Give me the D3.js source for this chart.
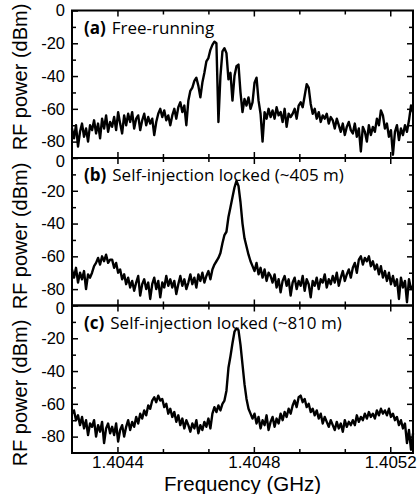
<!DOCTYPE html>
<html>
<head>
<meta charset="utf-8">
<script src="https://cdnjs.cloudflare.com/ajax/libs/d3/7.8.5/d3.min.js"></script>
<style>
body { margin: 0; background: #fff; }
svg text { font-family: "Liberation Sans", Arial, sans-serif; fill: #000; }
.tick line { stroke: #000; stroke-width: 1.5; }
.panel-label { font-family: "Open Sans", sans-serif; font-size: 17px; }
</style>
</head>
<body>
<script>
// frequency grid of the trace (GHz)
const freqStart = 1.4042667;
const freqEnd = 1.4052667;

const panelNames = ['(a)', '(b)', '(c)'];
const panelTitles = ['Free-running', 'Self-injection locked (~405 m)', 'Self-injection locked (~810 m)'];
const xTickLabels = [1.4044, 1.4048, 1.4052];
const yTickLabels = [0, -20, -40, -60, -80];
const yMinorTicks = [-10, -30, -50, -70];

// RF power (dBm), evenly spaced over the frequency span
const powerA = [
  -72, -78, -70, -83, -74, -69, -77, -72, -80, -70,
  -73, -67, -75, -69, -78, -66, -72, -64, -74, -68,
  -71, -65, -73, -62, -69, -75, -64, -70, -63, -68,
  -62, -72, -66, -64, -73, -67, -63, -70, -65, -69,
  -66, -76, -68, -63, -60, -65, -61, -67, -64, -70,
  -64, -60, -66, -59, -56, -62, -58, -70, -55, -49,
  -47, -43, -41, -46, -53, -44, -38, -31, -29, -24,
  -21, -19, -20, -68, -40, -25, -23, -26, -42, -38,
  -55, -40, -34, -33, -50, -62, -54, -58, -53, -60,
  -56, -44, -41, -55, -63, -80, -62, -66, -60, -65,
  -61, -66, -59, -64, -62, -68, -60, -71, -63, -65,
  -63, -60, -66, -58, -56, -59, -52, -45, -47, -57,
  -63, -60, -66, -62, -68, -64, -66, -63, -69, -65,
  -67, -72, -66, -70, -74, -69, -76, -71, -68, -73,
  -75, -69, -77, -72, -86, -71, -74, -80, -70, -76,
  -71, -74, -66, -70, -61, -64, -72, -69, -77, -73,
  -88, -74, -70, -79, -72, -76, -70, -74, -67, -58, -62
];
const powerB = [
  -68, -73, -67, -76, -70, -74, -69, -80, -71, -73,
  -70, -66, -64, -61, -65, -60, -63, -59, -64, -62,
  -62, -67, -64, -70, -68, -74, -71, -77, -73, -79,
  -75, -81, -76, -72, -84, -77, -74, -80, -76, -86,
  -77, -73, -80, -75, -85, -76, -79, -72, -78, -74,
  -79, -75, -83, -77, -72, -78, -74, -80, -76, -71,
  -77, -73, -79, -71, -75, -70, -76, -72, -69, -74,
  -68, -65, -63, -61, -58, -52, -47, -45, -36, -30,
  -24, -18, -14, -17, -27, -40, -49, -54, -59, -63,
  -66, -69, -64, -71, -67, -73, -68, -75, -70, -72,
  -76, -71, -79, -74, -82, -75, -72, -78, -74, -84,
  -76, -73, -80, -75, -78, -72, -81, -74, -77, -85,
  -75, -78, -73, -80, -74, -76, -71, -79, -74, -77,
  -72, -76, -70, -78, -73, -69, -75, -71, -68, -73,
  -67, -64, -70, -62, -60, -65, -61, -63, -60, -66,
  -63, -68, -65, -71, -66, -73, -69, -75, -70, -77,
  -72, -78, -74, -86, -73, -79, -75, -88, -74, -80, -78
];
const powerC = [
  -66, -64, -70, -67, -73, -68, -75, -70, -79, -72,
  -74, -70, -80, -73, -77, -71, -84, -75, -72, -78,
  -74, -79, -72, -83, -76, -73, -80, -74, -70, -76,
  -71, -74, -68, -72, -66, -69, -64, -67, -61, -63,
  -58, -56, -59, -55, -58, -57, -62, -60, -66, -63,
  -68, -65, -71, -67, -73, -69, -75, -70, -73, -77,
  -72, -75, -70, -78, -73, -76, -71, -74, -69, -75,
  -66, -62, -65, -61, -64, -60, -58, -52, -38, -31,
  -23, -16, -14, -15, -24, -36, -48, -57, -63, -66,
  -69, -66, -72, -68, -75, -70, -73, -67, -76, -71,
  -68, -74, -69, -72, -66, -70, -65, -68, -63, -66,
  -61, -58, -62, -56, -55, -59, -57, -62, -60, -65,
  -63, -67, -64, -69, -66, -72, -68, -71, -74, -70,
  -73, -76, -71, -75, -72, -77, -70, -74, -71, -73,
  -70, -73, -67, -71, -68, -70, -66, -69, -65, -68,
  -66, -69, -64, -67, -63, -66, -64, -67, -63, -68,
  -66, -70, -68, -73, -70, -75, -72, -84, -76, -88, -78
];
const traces = [powerA, powerB, powerC];

const width = 419;
const height = 494;
const margin = { top: 10.5, bottom: 41, left: 72, right: 6 };
const panelH = (height - margin.top - margin.bottom) / 3;
const labelCenters = [77, 236, 393]; // where the y titles sit

const svg = d3.select('body').append('svg')
  .attr('width', width)
  .attr('height', height);

const x = d3.scaleLinear()
  .domain([freqStart, freqEnd])
  .range([margin.left, width - margin.right]);

const step = (xTickLabels[1] - xTickLabels[0]) / 3;
const xMinor = d3.range(1, 8).map(k => freqStart + k * step)
  .filter(v => !xTickLabels.some(t => Math.abs(t - v) < 1e-7));

traces.forEach(function(trace, p) {
  const top = margin.top + p * panelH;
  const bottom = top + panelH;
  const y = d3.scaleLinear().domain([-90, 0]).range([bottom, top]);
  const g = svg.append('g');

  // inward ticks on all four sides
  g.append('g').attr('transform', 'translate(0 ' + bottom + ')')
    .call(d3.axisBottom(x).tickValues(xMinor).tickSize(-4).tickFormat(''));
  g.append('g').attr('transform', 'translate(0 ' + top + ')')
    .call(d3.axisTop(x).tickValues(xMinor).tickSize(-4).tickFormat(''));
  g.append('g').attr('transform', 'translate(0 ' + top + ')')
    .call(d3.axisTop(x).tickValues(xTickLabels).tickSize(-6).tickFormat(''));
  const xb = g.append('g').attr('class', 'xaxis').attr('transform', 'translate(0 ' + bottom + ')')
    .call(d3.axisBottom(x).tickValues(xTickLabels).tickSize(-6).tickPadding(3)
      .tickFormat(p === 2 ? d3.format('.4f') : ''));
  xb.selectAll('text').style('font-size', '17px');

  const yl = g.append('g').attr('transform', 'translate(' + margin.left + ' 0)')
    .call(d3.axisLeft(y).tickValues(yTickLabels).tickSize(-6).tickPadding(7)
      .tickFormat(d => d === 0 ? '0' : '-' + Math.abs(d)));
  yl.selectAll('text').style('font-size', '16.5px');
  // the 0 of the lower panels sits a little under the shared border
  if (p > 0) yl.selectAll('text').filter(d => d === 0).attr('y', 3);
  g.append('g').attr('transform', 'translate(' + margin.left + ' 0)')
    .call(d3.axisLeft(y).tickValues(yMinorTicks).tickSize(-4).tickFormat(''));
  g.append('g').attr('transform', 'translate(' + (width - margin.right) + ' 0)')
    .call(d3.axisRight(y).tickValues(yTickLabels.slice(1)).tickSize(-6).tickFormat(''));
  g.append('g').attr('transform', 'translate(' + (width - margin.right) + ' 0)')
    .call(d3.axisRight(y).tickValues(yMinorTicks).tickSize(-4).tickFormat(''));
  g.selectAll('.domain').remove();

  const line = d3.line()
    .x((d, i) => x(freqStart + i * (freqEnd - freqStart) / (trace.length - 1)))
    .y(d => y(d));

  g.append('path')
    .datum(trace)
    .attr('d', line)
    .attr('fill', 'none')
    .attr('stroke', '#000')
    .attr('stroke-width', 2.4)
    .attr('stroke-linejoin', 'round');

  g.append('rect')
    .attr('x', margin.left).attr('y', top)
    .attr('width', width - margin.right - margin.left).attr('height', panelH)
    .attr('fill', 'none').attr('stroke', '#000').attr('stroke-width', 2);

  const t = g.append('text')
    .attr('class', 'panel-label')
    .attr('x', 84).attr('y', top + 23);
  t.append('tspan').style('font-weight', 'bold').text(panelNames[p]);
  t.append('tspan').attr('dx', 6).text(panelTitles[p]);

  svg.append('text')
    .attr('transform', 'translate(27 ' + labelCenters[p] + ') rotate(-90)')
    .style('text-anchor', 'middle')
    .style('font-size', '20px')
    .text('RF power (dBm)');
});

svg.append('text')
  .attr('x', (margin.left + width - margin.right) / 2)
  .attr('y', 491)
  .style('text-anchor', 'middle')
  .style('font-size', '20.5px')
  .text('Frequency (GHz)');
</script>
</body>
</html>
